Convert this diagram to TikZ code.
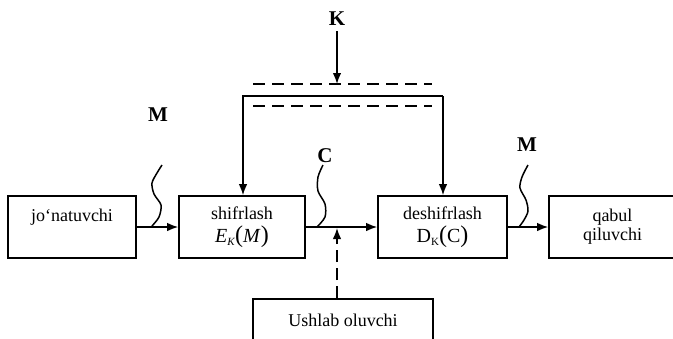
\documentclass[tikz,border=0pt]{standalone}
\usepackage{fontspec}
\setmainfont{Liberation Serif}
\usetikzlibrary{arrows.meta}
\newcommand{\bigpar}[1]{{\fontsize{24}{24}\selectfont #1}}
\begin{document}
\begin{tikzpicture}[x=1pt,y=-1pt,
  box/.style={draw, line width=1.6pt, inner sep=0pt, align=center, font=\fontsize{18}{19}\selectfont},
  lbl/.style={font=\bfseries\fontsize{21}{24}\selectfont, inner sep=0pt},
  arr/.style={line width=1.5pt, line join=miter, -{Latex[length=11pt,width=8.5pt]}},
  wave/.style={line width=1.5pt},
  dsh/.style={line width=1.6pt, dash pattern=on 12pt off 7pt}]
\useasboundingbox (0,0) rectangle (673,338);
% boxes
\node[box, minimum width=128pt, minimum height=62pt] (jo) at (72,227) {jo‘natuvchi\\\phantom{j}};
\node[box, minimum width=126pt, minimum height=62pt] (sh) at (242,227)
  {shifrlash\\[4pt]{\fontsize{20}{20}\selectfont\textit{E}}\raisebox{-0.4ex}{\fontsize{11}{11}\selectfont\textit{K}}\bigpar{(}{\fontsize{20}{20}\selectfont\textit{M}}\bigpar{)}};
\node[box, minimum width=129pt, minimum height=62pt] (de) at (442.5,227)
  {deshifrlash\\[4pt]{\fontsize{20}{20}\selectfont D}\raisebox{-0.4ex}{\fontsize{11}{11}\selectfont K}\bigpar{(}{\fontsize{20}{20}\selectfont C}\bigpar{)}};
\node[box, minimum width=127pt, minimum height=62pt] (qa) at (612.5,227) {qabul\\qiluvchi};
\node[box, minimum width=180pt, minimum height=43pt] (us) at (343,320.5) {Ushlab oluvchi};
% labels
\node[lbl] (K) at (337,19) {K};
\node[lbl] (m1) at (158,115) {M};
\node[lbl] (c1) at (325,156) {C};
\node[lbl] (m2) at (527,145) {M};
% key distribution lines
\coordinate (kd) at (337,84);
\coordinate (d1a) at (253,84);
\coordinate (d1b) at (432,84);
\coordinate (d2a) at (253,106);
\coordinate (d2b) at (432,106);
\coordinate (kl) at (243,96);
\coordinate (kr) at (443,96);
\draw[dsh] (d1a) -- (d1b);
\draw[dsh] (d2a) -- (d2b);
\draw[arr, shorten <=5pt] (K) -- (kd);
\draw[arr] (kr) -- (kl) -- (kl |- sh.north);
\draw[arr] (kr) -- (kr |- de.north);
% main flow
\draw[arr] (jo.east) -- (sh.west);
\draw[arr] (sh.east) -- (de.west);
\draw[arr] (de.east) -- (qa.west);
% interceptor
\coordinate (cx) at (337,228);
\draw[arr, dash pattern=on 12pt off 6pt] (us.north -| cx) -- (cx);
% wavy marks
\draw[wave] plot[smooth] coordinates {(162,165) (157,173) (152,183) (154,194) (161,205) (159,217) (152,226)};
\draw[wave] plot[smooth] coordinates {(323,165) (318,177) (318,191) (325,204) (325,217) (317,227)};
\draw[wave] plot[smooth] coordinates {(528,165) (522,177) (520,188) (526,200) (528,211) (524,220) (519,227)};
\end{tikzpicture}
\end{document}
